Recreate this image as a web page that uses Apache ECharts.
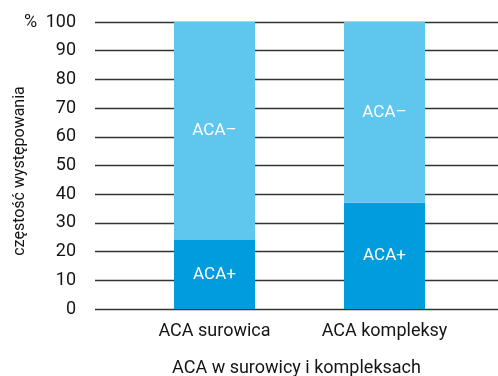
<!DOCTYPE html>
<html><head><meta charset="utf-8">
<script src="https://cdn.jsdelivr.net/npm/echarts@6/dist/echarts.min.js"></script>
<style>html,body{margin:0;padding:0;background:#fff}#c{width:498px;height:376px}</style>
</head><body><div id="c"></div>
<script>
const categories = ['ACA surowica', 'ACA kompleksy'];
const acaPlus = [24, 37];
const acaMinus = [76, 63];
const plusLabel = 'ACA+';
const minusLabel = 'ACA–';
const yTicks = [0, 10, 20, 30, 40, 50, 60, 70, 80, 90, 100];
const yTitle = 'częstość występowania';
const xTitle = 'ACA w surowicy i kompleksach';
const unitLabel = '%';

const FONT = 'Roboto';
const TXT = '#151515';
const chart = echarts.init(document.getElementById('c'), null, {renderer: 'canvas'});
chart.setOption({
  animation: false,
  textStyle: {fontFamily: FONT},
  grid: [
    {left: 95, right: 0, top: 22, bottom: 67, outerBoundsMode: 'none', containLabel: false},
    {left: 129.5, right: 28.5, top: 22, bottom: 67, outerBoundsMode: 'none', containLabel: false}
  ],
  xAxis: [
    {gridIndex: 0, type: 'category', data: categories, show: true,
     axisLine: {show: false}, axisTick: {show: false}, axisLabel: {show: false},
     name: xTitle, nameLocation: 'middle', nameGap: 50,
     nameTextStyle: {fontFamily: FONT, fontSize: 18, color: TXT}},
    {gridIndex: 1, type: 'category', data: categories,
     axisLine: {show: false}, axisTick: {show: false},
     axisLabel: {fontFamily: FONT, fontSize: 18, color: TXT, margin: 13}}
  ],
  yAxis: [
    {gridIndex: 0, type: 'value', min: 0, max: 100, interval: 10,
     axisLine: {show: false}, axisTick: {show: false},
     axisLabel: {fontFamily: FONT, fontSize: 18, color: TXT, margin: 19,
       formatter: v => yTicks.includes(v) ? String(v) : ''},
     splitLine: {lineStyle: {color: '#333', width: 1.3}}},
    {gridIndex: 1, type: 'value', min: 0, max: 100, interval: 10, show: false,
     splitLine: {show: false}}
  ],
  series: [
    {type: 'bar', xAxisIndex: 1, yAxisIndex: 1, stack: 'a', data: acaPlus, barWidth: 81,
     itemStyle: {color: '#009cdc'},
     label: {show: true, position: 'inside', formatter: plusLabel, color: '#fff', fontFamily: FONT, fontSize: 17}},
    {type: 'bar', xAxisIndex: 1, yAxisIndex: 1, stack: 'a', data: acaMinus, barWidth: 81,
     itemStyle: {color: '#5fc6ee'},
     label: {show: true, position: 'inside', formatter: minusLabel, color: '#fff', fontFamily: FONT, fontSize: 17}}
  ],
  graphic: [
    {type: 'text', left: 24, top: 13, style: {text: unitLabel, fontFamily: FONT, fontSize: 18, fill: TXT}},
    {type: 'text', x: 20, y: 171, rotation: Math.PI / 2,
     style: {text: yTitle, fontFamily: FONT, fontSize: 16, fill: TXT, align: 'center', verticalAlign: 'middle'}}
  ]
});
</script></body></html>
